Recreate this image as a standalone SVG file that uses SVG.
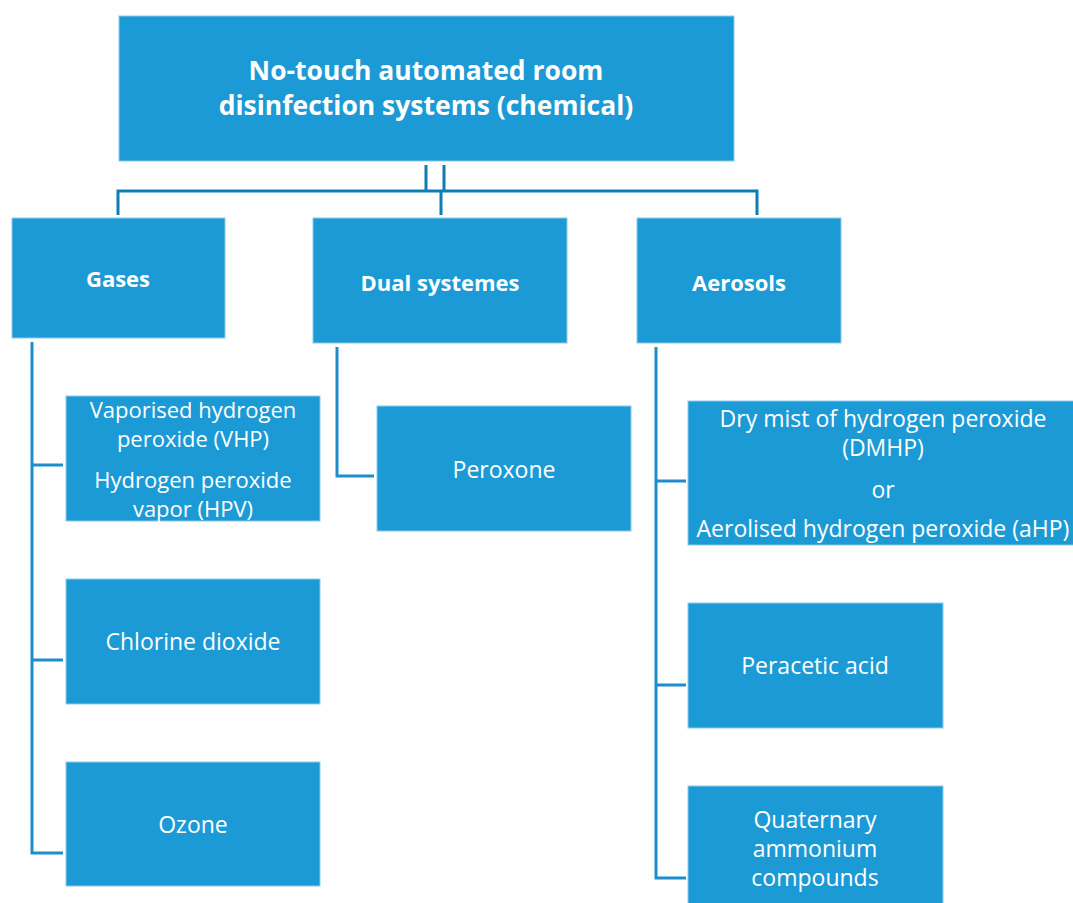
<svg xmlns="http://www.w3.org/2000/svg" width="1073" height="903" viewBox="0 0 1073 903">
<style>
.box{fill:#1C9AD6;stroke:#8CCBEB;stroke-width:1}
.t{font-family:"Open Sans","Noto Sans",sans-serif;font-size:23px;fill:#FFFFFF;text-anchor:middle;dominant-baseline:central}
.s{font-size:22px}
.b{font-weight:bold;font-size:22px}
.h{font-size:26.5px}
.c{fill:none;stroke:#1E8ECB;stroke-width:3}
.c2{fill:none;stroke:#0E7DB1;stroke-width:3}
</style>
<rect width="1073" height="903" fill="#FFFFFF"/>
<g id="connectors">
<path class="c2" d="M426,165 V191 M444,165 V191 M118,215 V191 H757 V215 M441,191 V215"/>
<path class="c" d="M32,342 V853 H63 M32,465 H63 M32,660 H63"/>
<path class="c" d="M337,347 V476 H374"/>
<path class="c" d="M656,347 V878 H686 M656,481 H686 M656,685 H686"/>
</g>
<g id="root">
<rect class="box" x="119" y="16" width="615" height="145"/>
<text class="t b h" x="426" y="70">No-touch automated room</text>
<text class="t b h" x="426" y="105">disinfection systems (chemical)</text>
</g>
<g id="gases">
<rect class="box" x="12" y="218" width="213" height="120"/>
<text class="t b" x="118" y="278">Gases</text>
</g>
<g id="dual">
<rect class="box" x="313" y="218" width="254" height="125"/>
<text class="t b" x="440" y="282">Dual systemes</text>
</g>
<g id="aerosols">
<rect class="box" x="637" y="218" width="204" height="125"/>
<text class="t b" x="739" y="282">Aerosols</text>
</g>
<g id="vhp">
<rect class="box" x="66" y="396" width="254" height="125"/>
<text class="t s" x="193" y="409">Vaporised hydrogen</text>
<text class="t s" x="193" y="438">peroxide (VHP)</text>
<text class="t s" x="193" y="479">Hydrogen peroxide</text>
<text class="t s" x="193" y="508">vapor (HPV)</text>
</g>
<g id="chlorine">
<rect class="box" x="66" y="579" width="254" height="125"/>
<text class="t" x="193" y="641">Chlorine dioxide</text>
</g>
<g id="ozone">
<rect class="box" x="66" y="762" width="254" height="124"/>
<text class="t" x="193" y="824">Ozone</text>
</g>
<g id="peroxone">
<rect class="box" x="377" y="406" width="254" height="125"/>
<text class="t" x="504" y="469">Peroxone</text>
</g>
<g id="dmhp">
<rect class="box" x="688" y="401" width="390" height="144"/>
<text class="t" x="883" y="418">Dry mist of hydrogen peroxide</text>
<text class="t" x="883" y="447">(DMHP)</text>
<text class="t" x="883" y="489">or</text>
<text class="t" x="883" y="528">Aerolised hydrogen peroxide (aHP)</text>
</g>
<g id="peracetic">
<rect class="box" x="688" y="603" width="255" height="125"/>
<text class="t" x="815" y="665">Peracetic acid</text>
</g>
<g id="quat">
<rect class="box" x="688" y="786" width="255" height="130"/>
<text class="t" x="815" y="819">Quaternary</text>
<text class="t" x="815" y="848">ammonium</text>
<text class="t" x="815" y="877">compounds</text>
</g>
</svg>
